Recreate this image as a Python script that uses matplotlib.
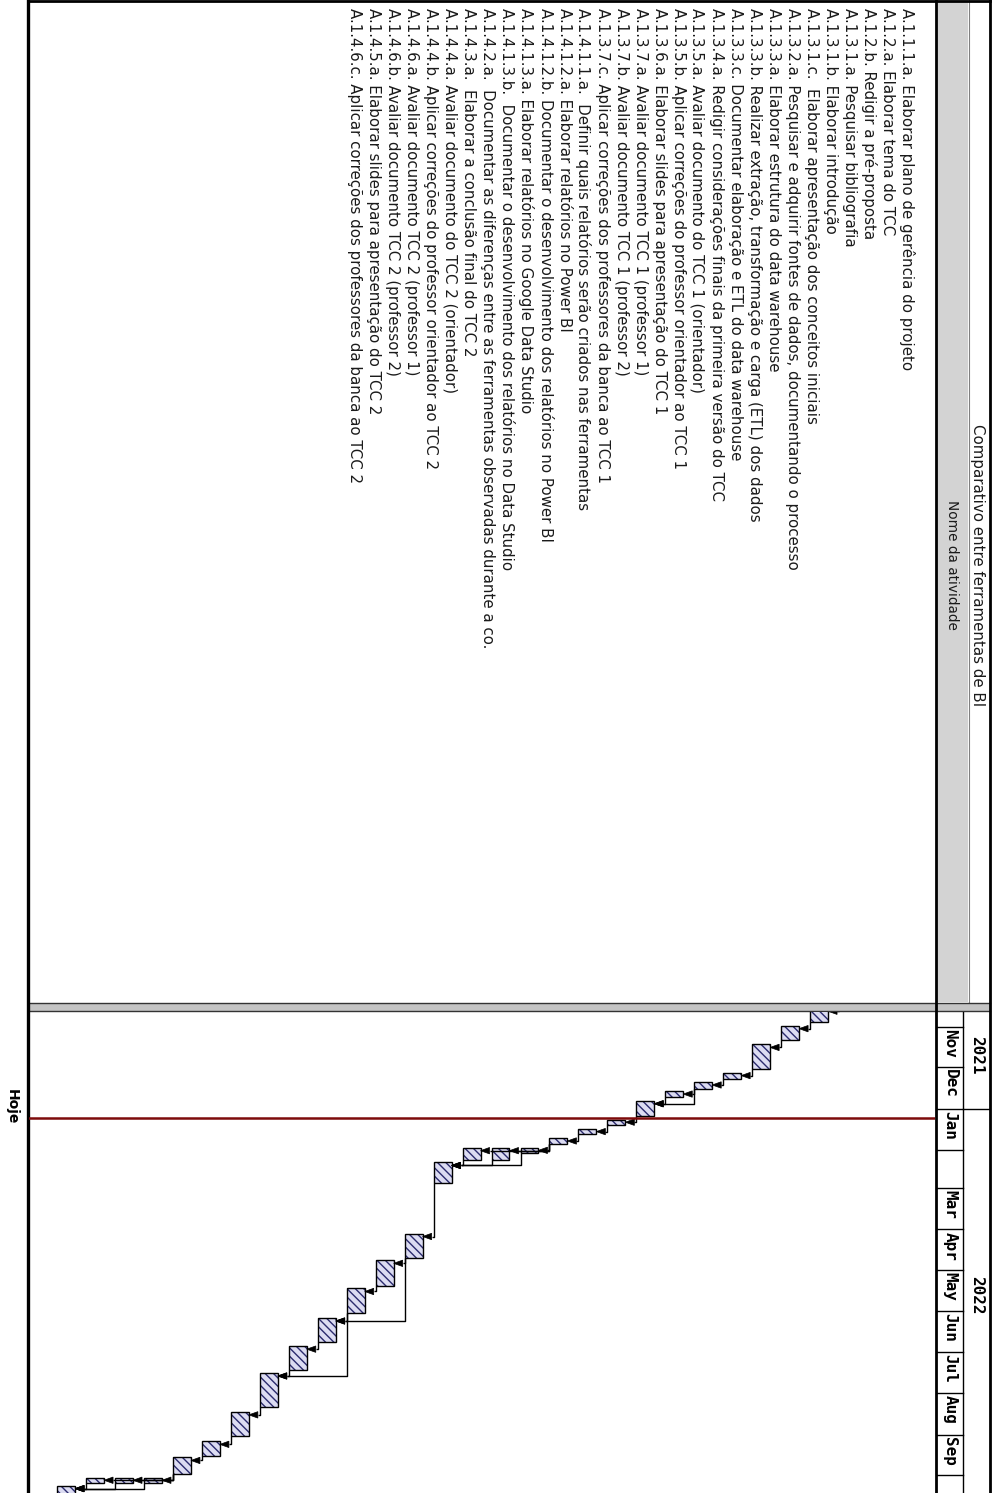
import numpy as np
import matplotlib
matplotlib.use("Agg")
import matplotlib.pyplot as plt
import matplotlib.dates as mdates
from matplotlib.patches import Polygon, Rectangle

# ---------------- data ----------------
title = "Comparativo entre ferramentas de BI"
col_header = "Nome da atividade"
today_label = "Hoje"
today = "2022-01-08"

task_names = [
    "A.1.1.1.a. Elaborar plano de gerência do projeto",
    "A.1.2.a. Elaborar tema do TCC",
    "A.1.2.b. Redigir a pré-proposta",
    "A.1.3.1.a. Pesquisar bibliografia",
    "A.1.3.1.b. Elaborar introdução",
    "A.1.3.1.c.  Elaborar apresentação dos conceitos iniciais",
    "A.1.3.2.a. Pesquisar e adquirir fontes de dados, documentando o processo",
    "A.1.3.3.a. Elaborar estrutura do data warehouse",
    "A.1.3.3.b. Realizar extração, transformação e carga (ETL) dos dados",
    "A.1.3.3.c. Documentar elaboração e ETL do data warehouse",
    "A.1.3.4.a. Redigir considerações finais da primeira versão do TCC",
    "A.1.3.5.a. Avaliar documento do TCC 1 (orientador)",
    "A.1.3.5.b. Aplicar correções do professor orientador ao TCC 1",
    "A.1.3.6.a. Elaborar slides para apresentação do TCC 1",
    "A.1.3.7.a. Avaliar documento TCC 1 (professor 1)",
    "A.1.3.7.b. Avaliar documento TCC 1 (professor 2)",
    "A.1.3.7.c. Aplicar correções dos professores da banca ao TCC 1",
    "A.1.4.1.1.a.  Definir quais relatórios serão criados nas ferramentas",
    "A.1.4.1.2.a. Elaborar relatórios no Power BI",
    "A.1.4.1.2.b. Documentar o desenvolvimento dos relatórios no Power BI",
    "A.1.4.1.3.a. Elaborar relatórios no Google Data Studio",
    "A.1.4.1.3.b.  Documentar o desenvolvimento dos relatórios no Data Studio",
    "A.1.4.2.a.  Documentar as diferenças entre as ferramentas observadas durante a co.",
    "A.1.4.3.a.  Elaborar a conclusão final do TCC 2",
    "A.1.4.4.a. Avaliar documento do TCC 2 (orientador)",
    "A.1.4.4.b. Aplicar correções do professor orientador ao TCC 2",
    "A.1.4.6.a. Avaliar documento TCC 2 (professor 1)",
    "A.1.4.6.b. Avaliar documento TCC 2 (professor 2)",
    "A.1.4.5.a. Elaborar slides para apresentação do TCC 2",
    "A.1.4.6.c. Aplicar correções dos professores da banca ao TCC 2",
]

task_start = [
    "2021-09-20", "2021-10-05", "2021-10-18", "2021-10-31", "2021-11-14",
    "2021-12-05", "2021-12-12", "2021-12-19", "2021-12-26", "2022-01-09",
    "2022-01-16", "2022-01-23", "2022-01-30", "2022-01-30", "2022-01-30",
    "2022-02-10", "2022-04-04", "2022-04-24", "2022-05-15", "2022-06-06",
    "2022-06-27", "2022-07-17", "2022-08-15", "2022-09-06", "2022-09-18",
    "2022-10-03", "2022-10-03", "2022-10-03", "2022-10-09", "2022-10-19",
]
task_end = [
    "2021-10-03", "2021-10-16", "2021-10-28", "2021-11-11", "2021-12-02",
    "2021-12-10", "2021-12-17", "2021-12-23", "2022-01-06", "2022-01-13",
    "2022-01-20", "2022-01-27", "2022-02-03", "2022-02-08", "2022-02-08",
    "2022-02-25", "2022-04-22", "2022-05-13", "2022-06-02", "2022-06-24",
    "2022-07-15", "2022-08-11", "2022-09-02", "2022-09-17", "2022-09-30",
    "2022-10-07", "2022-10-07", "2022-10-07", "2022-10-17", "2022-10-28",
]

link_pred = [0, 1, 2, 3, 4, 5, 6, 6, 7, 8, 9, 10, 11, 11, 11, 12, 13, 14,
             15, 16, 16, 17, 18, 18, 19, 20, 21, 22, 23, 24, 24, 24, 25, 26, 27, 28]
link_succ = [1, 2, 3, 4, 5, 6, 7, 8, 8, 9, 10, 11, 12, 13, 14, 15, 15, 15,
             16, 17, 19, 18, 19, 21, 20, 21, 22, 23, 24, 25, 26, 27, 28, 28, 28, 29]

month_starts = ["2021-10-01", "2021-11-01", "2021-12-01", "2022-01-01", "2022-02-01",
                "2022-03-01", "2022-04-01", "2022-05-01", "2022-06-01", "2022-07-01",
                "2022-08-01", "2022-09-01", "2022-10-01", "2022-11-01"]
month_labels = ["", "Nov", "Dec", "Jan", "", "Mar", "Apr", "May", "Jun", "Jul",
                "Aug", "Sep", ""]
year_labels = ["2021", "2022"]
year_bounds = ["2021-01-01", "2022-01-01", "2023-01-01"]

# ---------------- figure ----------------
W, H = 992, 1493
fig = plt.figure(figsize=(W / 100, H / 100), dpi=100)
fig.patch.set_facecolor("white")

bg = fig.add_axes([0, 0, 1, 1])
bg.set_xlim(0, W)
bg.set_ylim(H, 0)
bg.axis("off")

FONT = "DejaVu Sans"
row_fs = 10.8
txt_col = "#1a1a1a"

# table area
bg.add_patch(Rectangle((937, 0), 31, 1002, facecolor="#d3d3d3", edgecolor="none"))
bg.plot([969, 969], [0, 1002], color="#808080", lw=0.8)
bg.text(952, 565, col_header, rotation=-90, ha="center", va="center",
        fontsize=9.8, family=FONT, color=txt_col)
bg.text(978, 565, title, rotation=-90, ha="center", va="center",
        fontsize=10.8, family=FONT, color=txt_col)
for i, name in enumerate(task_names):
    bg.text(907 - 19.05 * i, 8, name, rotation=-90, ha="center", va="top",
            fontsize=row_fs, family=FONT, color=txt_col)

# splitter between table and chart
bg.add_patch(Rectangle((29, 1003), 961, 8, facecolor="#c4c4c4", edgecolor="none"))
bg.plot([29, 990], [1003, 1003], color="#333333", lw=1)
bg.plot([29, 990], [1011, 1011], color="#333333", lw=1)

# outer frame and column separator
bg.plot([28, 28], [0, H], color="black", lw=2.4)
bg.plot([28, 990], [1, 1], color="black", lw=2)
bg.plot([990, 990], [0, H], color="black", lw=2)
bg.plot([936, 936], [0, H], color="black", lw=2)

bg.text(12, 1107, today_label, rotation=-90, ha="center", va="center",
        fontsize=10, fontweight="bold", family=FONT, color="black")

# ---------------- gantt axes ----------------
base = mdates.datestr2num("2021-11-01")
px_per_day = 1.341
d_top = base - (1027 - 1012) / px_per_day
d_bot = base + (H - 1027) / px_per_day

gx = fig.add_axes([29 / W, 0, (935 - 29) / W, (H - 1012) / H])
gx.set_ylim(d_bot, d_top)
row_top, row_pitch = 877, 28.96
gx.set_xlim((row_top - 29) / row_pitch, (row_top - 935) / row_pitch)
gx.axis("off")

rows = np.arange(len(task_names))
s = mdates.datestr2num(task_start)
e = mdates.datestr2num(task_end)
bw = 0.62
plt.rcParams["hatch.linewidth"] = 1.0
gx.bar(rows, e - s, bottom=s, width=bw, color="#dcdcf2", edgecolor="#2b2b6e",
       linewidth=0, hatch="\\\\\\\\", zorder=3)
gx.bar(rows, e - s, bottom=s, width=bw, fill=False, edgecolor="black",
       linewidth=1.0, zorder=4)

# dependency links
alen = 9 / row_pitch
ah = 3.2 / px_per_day
for p, q in zip(link_pred, link_succ):
    dd = min(3.0 / px_per_day, (e[q] - s[q]) / 2)
    ys = s[q] + dd
    xp = rows[p] + bw / 2
    xt = rows[q] - bw / 2
    gx.plot([xp, xp, xt - alen], [e[p], ys, ys], color="black", lw=1.0,
            zorder=5, solid_capstyle="butt")
    gx.add_patch(Polygon([[xt, ys], [xt - alen, ys - ah], [xt - alen, ys + ah]],
                         closed=True, facecolor="black", edgecolor="black",
                         lw=0.5, zorder=6))

gx.axhline(mdates.datestr2num(today), color="#7d0b0b", lw=1.8, zorder=7)

# ---------------- timescale header ----------------
hd = fig.add_axes([937 / W, 0, (990 - 937) / W, (H - 1012) / H], sharey=gx)
hd.set_xlim(0, 1)
hd.set_ylim(d_bot, d_top)
hd.axis("off")
ms = mdates.datestr2num(month_starts)
mid_x = 0.49
hd.plot([mid_x, mid_x], [d_top, d_bot], color="black", lw=1)
for k in range(len(ms) - 1):
    hd.plot([0, mid_x], [ms[k], ms[k]], color="black", lw=1)
    if month_labels[k]:
        hd.text(mid_x / 2, ms[k] + 1.5, month_labels[k], rotation=-90,
                ha="center", va="top", fontsize=11.5, fontweight="bold",
                family="DejaVu Sans Mono", color="black")
yb = mdates.datestr2num(year_bounds)
for k in range(len(year_labels)):
    lo = max(yb[k], d_top)
    hi = min(yb[k + 1], d_bot)
    hd.plot([mid_x, 1], [yb[k + 1], yb[k + 1]], color="black", lw=1)
    hd.text((mid_x + 1) / 2, (lo + hi) / 2 - 4, year_labels[k], rotation=-90,
            ha="center", va="center", fontsize=11.5, fontweight="bold",
            family="DejaVu Sans Mono", color="black")

fig.savefig("out.png", dpi=100, facecolor="white")
